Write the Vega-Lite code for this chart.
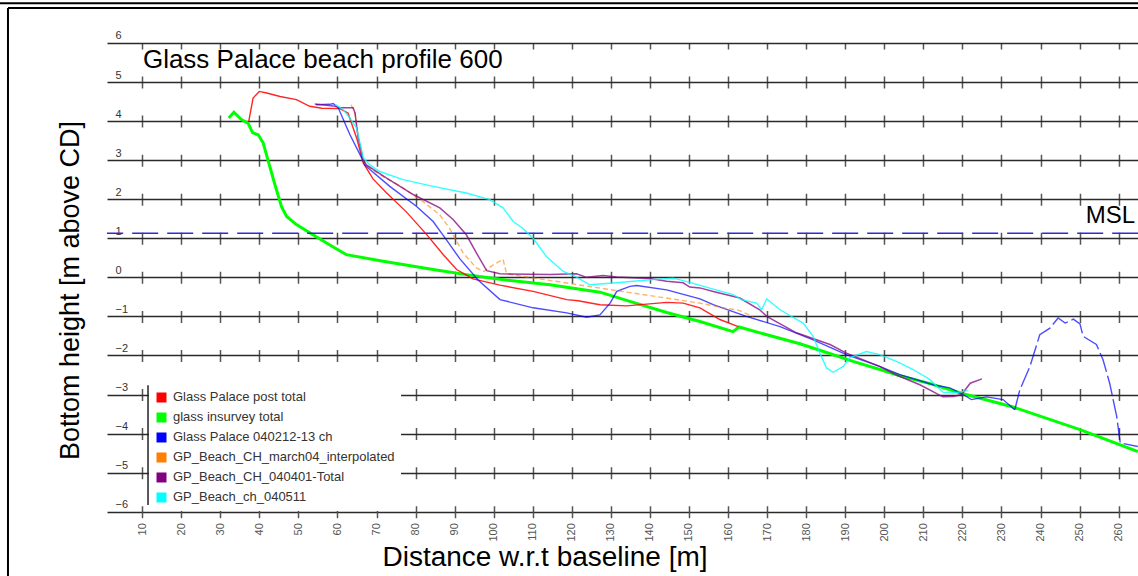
{
  "$schema": "https://vega.github.io/schema/vega-lite/v6.json",
  "width": 1031.2,
  "height": 468.7,
  "autosize": {"type": "none"},
  "padding": {"left": 107, "top": 43, "right": 0, "bottom": 64},
  "background": "white",
  "config": {"view": {"stroke": null}, "font": "Liberation Sans"},
  "data": {"values": [{}]},
  "datasets": {
    "insurvey": [
      {"dist": 32.2, "height": 4.08}, {"dist": 33.5, "height": 4.23}, {"dist": 35.4, "height": 4.04}, {"dist": 37.1, "height": 3.95},
      {"dist": 38.3, "height": 3.70}, {"dist": 39.7, "height": 3.65}, {"dist": 41.0, "height": 3.44}, {"dist": 42.3, "height": 2.97},
      {"dist": 44.0, "height": 2.37}, {"dist": 45.7, "height": 1.80}, {"dist": 47.0, "height": 1.56}, {"dist": 49.5, "height": 1.35},
      {"dist": 52.9, "height": 1.14}, {"dist": 57.2, "height": 0.88}, {"dist": 62.3, "height": 0.58}, {"dist": 71.7, "height": 0.41},
      {"dist": 84.5, "height": 0.20}, {"dist": 93.0, "height": 0.07}, {"dist": 101.6, "height": -0.05}, {"dist": 114.4, "height": -0.19},
      {"dist": 127.2, "height": -0.38}, {"dist": 135.7, "height": -0.64}, {"dist": 144.3, "height": -0.90}, {"dist": 152.8, "height": -1.13},
      {"dist": 161.3, "height": -1.39}, {"dist": 162.8, "height": -1.27}, {"dist": 169.9, "height": -1.47}, {"dist": 178.4, "height": -1.70},
      {"dist": 186.0, "height": -1.95}, {"dist": 192.0, "height": -2.15}, {"dist": 198.9, "height": -2.36}, {"dist": 204.0, "height": -2.52},
      {"dist": 211.7, "height": -2.72}, {"dist": 220.2, "height": -2.98}, {"dist": 233.0, "height": -3.32}, {"dist": 250.1, "height": -3.90},
      {"dist": 264.9, "height": -4.46}
    ],
    "post": [
      {"dist": 37.3, "height": 4.0}, {"dist": 38.4, "height": 4.59}, {"dist": 40.0, "height": 4.76}, {"dist": 41.9, "height": 4.72},
      {"dist": 45.3, "height": 4.63}, {"dist": 49.5, "height": 4.55}, {"dist": 52.9, "height": 4.38}, {"dist": 56.0, "height": 4.33},
      {"dist": 60.6, "height": 4.32}, {"dist": 62.7, "height": 4.21}, {"dist": 64.9, "height": 3.57}, {"dist": 66.6, "height": 2.93},
      {"dist": 69.1, "height": 2.52}, {"dist": 72.6, "height": 2.16}, {"dist": 77.7, "height": 1.67}, {"dist": 82.8, "height": 1.10},
      {"dist": 87.1, "height": 0.58}, {"dist": 90.5, "height": 0.20}, {"dist": 94.7, "height": -0.04}, {"dist": 101.6, "height": -0.20},
      {"dist": 110.1, "height": -0.36}, {"dist": 118.7, "height": -0.57}, {"dist": 121.6, "height": -0.60}, {"dist": 127.2, "height": -0.70},
      {"dist": 134.0, "height": -0.73}, {"dist": 144.3, "height": -0.64}, {"dist": 148.5, "height": -0.66}, {"dist": 152.8, "height": -0.78},
      {"dist": 157.9, "height": -1.08}, {"dist": 162.6, "height": -1.26}
    ],
    "ch040212": [
      {"dist": 54.5, "height": 4.42}, {"dist": 58.0, "height": 4.43}, {"dist": 58.9, "height": 4.45}, {"dist": 60.2, "height": 4.34},
      {"dist": 63.2, "height": 3.65}, {"dist": 66.2, "height": 3.06}, {"dist": 67.0, "height": 2.88}, {"dist": 68.3, "height": 2.76},
      {"dist": 73.4, "height": 2.33}, {"dist": 80.2, "height": 1.82}, {"dist": 84.5, "height": 1.43}, {"dist": 87.9, "height": 0.96},
      {"dist": 91.3, "height": 0.48}, {"dist": 96.0, "height": -0.07}, {"dist": 101.6, "height": -0.57}, {"dist": 110.1, "height": -0.78},
      {"dist": 118.7, "height": -0.91}, {"dist": 123.8, "height": -1.02}, {"dist": 127.2, "height": -0.96}, {"dist": 129.8, "height": -0.66},
      {"dist": 131.5, "height": -0.36}, {"dist": 134.9, "height": -0.23}, {"dist": 136.6, "height": -0.21}, {"dist": 144.3, "height": -0.32},
      {"dist": 152.8, "height": -0.55}, {"dist": 156.2, "height": -0.70}, {"dist": 164.7, "height": -1.0}, {"dist": 173.3, "height": -1.26},
      {"dist": 181.8, "height": -1.60}, {"dist": 190.3, "height": -1.98}, {"dist": 198.8, "height": -2.28}, {"dist": 204.0, "height": -2.49},
      {"dist": 212.5, "height": -2.75}, {"dist": 216.8, "height": -2.83}, {"dist": 220.2, "height": -3.0}, {"dist": 222.3, "height": -3.13},
      {"dist": 226.2, "height": -3.06}, {"dist": 230.4, "height": -3.13}, {"dist": 233.4, "height": -3.39}
    ],
    "ch040212gap": [
      {"dist": 233.4, "height": -3.39}, {"dist": 234.7, "height": -2.88}, {"dist": 237.3, "height": -2.28}, {"dist": 239.8, "height": -1.47},
      {"dist": 242.4, "height": -1.30}, {"dist": 244.5, "height": -1.04}, {"dist": 246.3, "height": -1.17}, {"dist": 248.4, "height": -1.07},
      {"dist": 250.1, "height": -1.19}, {"dist": 250.9, "height": -1.51}, {"dist": 254.3, "height": -1.72}, {"dist": 256.0, "height": -2.11},
      {"dist": 257.7, "height": -2.71}, {"dist": 259.5, "height": -3.56}, {"dist": 260.4, "height": -4.24}, {"dist": 264.9, "height": -4.33}
    ],
    "march04": [
      {"dist": 63.5, "height": 4.42}, {"dist": 64.5, "height": 4.20}, {"dist": 65.3, "height": 3.60}, {"dist": 66.6, "height": 3.00},
      {"dist": 67.4, "height": 2.86}, {"dist": 70.8, "height": 2.63}, {"dist": 75.9, "height": 2.35}, {"dist": 81.9, "height": 1.94},
      {"dist": 86.2, "height": 1.60}, {"dist": 88.8, "height": 1.24}, {"dist": 92.2, "height": 0.62}, {"dist": 95.6, "height": 0.24},
      {"dist": 97.5, "height": 0.15}, {"dist": 99.9, "height": 0.32}, {"dist": 102.4, "height": 0.46}, {"dist": 103.3, "height": 0.09},
      {"dist": 122.9, "height": -0.21}, {"dist": 152.8, "height": -0.66}, {"dist": 158.7, "height": -0.78}, {"dist": 162.6, "height": -0.84},
      {"dist": 166.4, "height": -1.0}
    ],
    "ch040401": [
      {"dist": 54.2, "height": 4.44}, {"dist": 58.9, "height": 4.39}, {"dist": 60.6, "height": 4.34}, {"dist": 64.0, "height": 4.34},
      {"dist": 64.5, "height": 4.21}, {"dist": 65.3, "height": 3.57}, {"dist": 66.6, "height": 3.01}, {"dist": 67.4, "height": 2.88},
      {"dist": 72.6, "height": 2.54}, {"dist": 79.4, "height": 2.12}, {"dist": 86.2, "height": 1.78}, {"dist": 89.6, "height": 1.48},
      {"dist": 93.0, "height": 1.09}, {"dist": 95.6, "height": 0.62}, {"dist": 98.2, "height": 0.17}, {"dist": 101.6, "height": 0.09},
      {"dist": 114.4, "height": 0.07}, {"dist": 121.2, "height": 0.09}, {"dist": 123.8, "height": 0.0}, {"dist": 128.0, "height": 0.05},
      {"dist": 131.5, "height": 0.01}, {"dist": 140.0, "height": -0.03}, {"dist": 144.3, "height": -0.10}, {"dist": 148.5, "height": -0.14},
      {"dist": 150.2, "height": -0.25}, {"dist": 152.8, "height": -0.27}, {"dist": 156.2, "height": -0.36}, {"dist": 163.0, "height": -0.53},
      {"dist": 168.1, "height": -0.83}, {"dist": 169.9, "height": -1.0}, {"dist": 177.5, "height": -1.42}, {"dist": 186.1, "height": -1.72},
      {"dist": 190.3, "height": -1.94}, {"dist": 198.8, "height": -2.28}, {"dist": 203.1, "height": -2.50}, {"dist": 209.1, "height": -2.75},
      {"dist": 215.0, "height": -3.06}, {"dist": 217.6, "height": -3.05}, {"dist": 219.8, "height": -3.0}, {"dist": 222.0, "height": -2.71},
      {"dist": 225.0, "height": -2.60}
    ],
    "ch040511": [
      {"dist": 59.5, "height": 4.42}, {"dist": 61.5, "height": 4.29}, {"dist": 63.0, "height": 4.10}, {"dist": 64.9, "height": 3.82},
      {"dist": 66.6, "height": 3.06}, {"dist": 68.3, "height": 2.88}, {"dist": 70.8, "height": 2.71}, {"dist": 76.8, "height": 2.50},
      {"dist": 84.5, "height": 2.33}, {"dist": 93.0, "height": 2.16}, {"dist": 99.0, "height": 1.99}, {"dist": 102.4, "height": 1.78},
      {"dist": 105.0, "height": 1.43}, {"dist": 107.5, "height": 1.25}, {"dist": 110.1, "height": 1.0}, {"dist": 113.5, "height": 0.53},
      {"dist": 117.8, "height": 0.15}, {"dist": 121.0, "height": 0.02}, {"dist": 124.6, "height": -0.19}, {"dist": 131.5, "height": -0.14},
      {"dist": 140.0, "height": -0.06}, {"dist": 146.0, "height": -0.02}, {"dist": 150.2, "height": -0.13}, {"dist": 156.2, "height": -0.30},
      {"dist": 161.3, "height": -0.44}, {"dist": 163.4, "height": -0.57}, {"dist": 167.3, "height": -0.66}, {"dist": 168.6, "height": -0.83},
      {"dist": 169.9, "height": -0.55}, {"dist": 171.1, "height": -0.65}, {"dist": 173.3, "height": -0.83}, {"dist": 179.2, "height": -1.17},
      {"dist": 181.8, "height": -1.51}, {"dist": 183.5, "height": -1.94}, {"dist": 185.2, "height": -2.32}, {"dist": 186.9, "height": -2.43},
      {"dist": 189.5, "height": -2.28}, {"dist": 191.1, "height": -2.06}, {"dist": 195.4, "height": -1.90}, {"dist": 198.8, "height": -1.98},
      {"dist": 203.1, "height": -2.15}, {"dist": 207.4, "height": -2.36}, {"dist": 211.7, "height": -2.62}, {"dist": 215.0, "height": -2.94},
      {"dist": 217.6, "height": -2.96}, {"dist": 221.5, "height": -2.90}
    ]
  },
  "layer": [
    {
      "data": {"name": "insurvey"},
      "mark": {"type": "line", "strokeWidth": 3, "clip": true},
      "encoding": {
        "x": {
          "field": "dist", "type": "quantitative",
          "scale": {"domain": [1, 265], "nice": false, "zero": false},
          "axis": {
            "orient": "bottom", "values": [10, 20, 30, 40, 50, 60, 70, 80, 90, 100, 110, 120, 130, 140, 150, 160, 170, 180, 190, 200, 210, 220, 230, 240, 250, 260],
            "tickCount": 40, "format": "d",
            "domain": false, "ticks": true, "tickSize": 6, "tickColor": "#555555", "tickWidth": 1.5,
            "grid": true, "gridColor": "#555555", "gridWidth": 1.5, "gridDash": [12, 27.06], "gridDashOffset": 6,
            "labelAngle": 270, "labelAlign": "right", "labelBaseline": "middle", "labelPadding": 5,
            "labelFontSize": 11, "labelColor": "#555555", "labelFont": "Liberation Sans", "labelFlush": false, "labelOverlap": false,
            "title": "Distance w.r.t baseline [m]", "titleFont": "Liberation Sans", "titleFontSize": 28, "titleFontWeight": "normal",
            "titleColor": "black", "titleX": 437.5, "titleY": 54, "titleAlign": "center", "titleBaseline": "alphabetic"
          }
        },
        "y": {
          "field": "height", "type": "quantitative",
          "scale": {"domain": [-6, 6], "nice": false, "zero": false},
          "axis": {
            "orient": "left", "values": [-6, -5, -4, -3, -2, -1, 0, 1, 2, 3, 4, 5, 6],
            "tickCount": 30, "format": "d",
            "domain": false, "ticks": false, "grid": true, "gridColor": "#2a2a2a", "gridWidth": 1.5,
            "labelAlign": "left", "labelBaseline": "bottom", "labelPadding": -8, "labelOffset": -2,
            "labelFontSize": 11, "labelColor": "#333333", "labelFont": "Liberation Sans", "labelFlush": false, "labelOverlap": false, "labelBound": false,
            "title": "Bottom height [m above CD]", "titleFont": "Liberation Sans", "titleFontSize": 27, "titleFontWeight": "normal",
            "titleColor": "black", "titleX": -29, "titleY": 247, "titleAngle": 270, "titleAlign": "center", "titleBaseline": "alphabetic"
          }
        },
        "color": {
          "datum": "glass insurvey total", "type": "nominal",
          "scale": {
            "domain": ["Glass Palace post total", "glass insurvey total", "Glass Palace 040212-13 ch", "GP_Beach_CH_march04_interpolated", "GP_Beach_CH_040401-Total", "GP_Beach_ch_040511"],
            "range": ["#ff0000", "#00ff00", "#0000ff", "#ff8000", "#800080", "#00ffff"]
          },
          "legend": {
            "title": null, "orient": "none", "legendX": 42, "legendY": 342, "fillColor": "white", "padding": 6,
            "symbolType": "square", "symbolSize": 100, "symbolStrokeWidth": 0, "labelFontSize": 13, "labelFont": "Liberation Sans",
            "labelColor": "#333333", "rowPadding": 6, "labelOffset": 5, "labelLimit": 400,
            "encode": {"symbols": {"update": {"fill": {"scale": "color", "field": "value"}, "fillOpacity": {"value": 1}, "strokeWidth": {"value": 0}}}}
          }
        }
      }
    },
    {
      "mark": {"type": "rule", "color": "#2b2bd9", "strokeWidth": 1.6, "strokeDash": [26, 9]},
      "encoding": {
        "y": {"datum": 1.13, "type": "quantitative", "scale": {"domain": [-6, 6], "nice": false, "zero": false}}
      }
    },
    {
      "data": {"name": "post"},
      "mark": {"type": "line", "strokeWidth": 1.4, "strokeOpacity": 0.85, "clip": true},
      "encoding": {
        "x": {"field": "dist", "type": "quantitative", "scale": {"domain": [1, 265], "nice": false, "zero": false}},
        "y": {"field": "height", "type": "quantitative", "scale": {"domain": [-6, 6], "nice": false, "zero": false}},
        "color": {"datum": "Glass Palace post total", "type": "nominal"}
      }
    },
    {
      "data": {"name": "ch040212"},
      "mark": {"type": "line", "strokeWidth": 1.4, "strokeOpacity": 0.7, "clip": true},
      "encoding": {
        "x": {"field": "dist", "type": "quantitative", "scale": {"domain": [1, 265], "nice": false, "zero": false}},
        "y": {"field": "height", "type": "quantitative", "scale": {"domain": [-6, 6], "nice": false, "zero": false}},
        "color": {"datum": "Glass Palace 040212-13 ch", "type": "nominal"}
      }
    },
    {
      "data": {"name": "ch040212gap"},
      "mark": {"type": "line", "strokeWidth": 1.4, "strokeOpacity": 0.7, "strokeDash": [20, 4], "clip": true},
      "encoding": {
        "x": {"field": "dist", "type": "quantitative", "scale": {"domain": [1, 265], "nice": false, "zero": false}},
        "y": {"field": "height", "type": "quantitative", "scale": {"domain": [-6, 6], "nice": false, "zero": false}},
        "color": {"datum": "Glass Palace 040212-13 ch", "type": "nominal"}
      }
    },
    {
      "data": {"name": "march04"},
      "mark": {"type": "line", "strokeWidth": 1.4, "strokeOpacity": 0.6, "strokeDash": [5, 3], "clip": true},
      "encoding": {
        "x": {"field": "dist", "type": "quantitative", "scale": {"domain": [1, 265], "nice": false, "zero": false}},
        "y": {"field": "height", "type": "quantitative", "scale": {"domain": [-6, 6], "nice": false, "zero": false}},
        "color": {"datum": "GP_Beach_CH_march04_interpolated", "type": "nominal"}
      }
    },
    {
      "data": {"name": "ch040401"},
      "mark": {"type": "line", "strokeWidth": 1.5, "strokeOpacity": 0.75, "clip": true},
      "encoding": {
        "x": {"field": "dist", "type": "quantitative", "scale": {"domain": [1, 265], "nice": false, "zero": false}},
        "y": {"field": "height", "type": "quantitative", "scale": {"domain": [-6, 6], "nice": false, "zero": false}},
        "color": {"datum": "GP_Beach_CH_040401-Total", "type": "nominal"}
      }
    },
    {
      "data": {"name": "ch040511"},
      "mark": {"type": "line", "strokeWidth": 1.4, "strokeOpacity": 0.8, "clip": true},
      "encoding": {
        "x": {"field": "dist", "type": "quantitative", "scale": {"domain": [1, 265], "nice": false, "zero": false}},
        "y": {"field": "height", "type": "quantitative", "scale": {"domain": [-6, 6], "nice": false, "zero": false}},
        "color": {"datum": "GP_Beach_ch_040511", "type": "nominal"}
      }
    },
    {
      "mark": {"type": "text", "text": "Glass Palace beach profile 600", "align": "left", "baseline": "alphabetic", "fontSize": 26, "font": "Liberation Sans", "color": "black"},
      "encoding": {
        "x": {"datum": 10.2, "type": "quantitative", "scale": {"domain": [1, 265], "nice": false, "zero": false}},
        "y": {"datum": 5.36, "type": "quantitative", "scale": {"domain": [-6, 6], "nice": false, "zero": false}}
      }
    },
    {
      "mark": {"type": "text", "text": "MSL", "align": "left", "baseline": "alphabetic", "fontSize": 24, "font": "Liberation Sans", "color": "black", "clip": false},
      "encoding": {
        "x": {"datum": 251.6, "type": "quantitative", "scale": {"domain": [1, 265], "nice": false, "zero": false}},
        "y": {"datum": 1.40, "type": "quantitative", "scale": {"domain": [-6, 6], "nice": false, "zero": false}}
      }
    },
    {
      "mark": {"type": "rule", "color": "#222222", "strokeWidth": 1.5, "clip": false},
      "encoding": {
        "x": {"datum": 11.5, "type": "quantitative", "scale": {"domain": [1, 265], "nice": false, "zero": false}},
        "y": {"datum": -2.76, "type": "quantitative", "scale": {"domain": [-6, 6], "nice": false, "zero": false}},
        "y2": {"datum": -5.83}
      }
    },
    {
      "mark": {"type": "rule", "color": "black", "strokeWidth": 2, "clip": false},
      "encoding": {
        "x": {"datum": -28, "type": "quantitative", "scale": {"domain": [1, 265], "nice": false, "zero": false}},
        "x2": {"datum": 268},
        "y": {"datum": 7.02, "type": "quantitative", "scale": {"domain": [-6, 6], "nice": false, "zero": false}}
      }
    },
    {
      "mark": {"type": "rule", "color": "black", "strokeWidth": 2, "clip": false},
      "encoding": {
        "x": {"datum": -24.35, "type": "quantitative", "scale": {"domain": [1, 265], "nice": false, "zero": false}},
        "x2": {"datum": 268},
        "y": {"datum": 6.896, "type": "quantitative", "scale": {"domain": [-6, 6], "nice": false, "zero": false}}
      }
    },
    {
      "mark": {"type": "rule", "color": "black", "strokeWidth": 2, "clip": false},
      "encoding": {
        "x": {"datum": -24.35, "type": "quantitative", "scale": {"domain": [1, 265], "nice": false, "zero": false}},
        "y": {"datum": 6.896, "type": "quantitative", "scale": {"domain": [-6, 6], "nice": false, "zero": false}},
        "y2": {"datum": -7.7}
      }
    }
  ]
}
